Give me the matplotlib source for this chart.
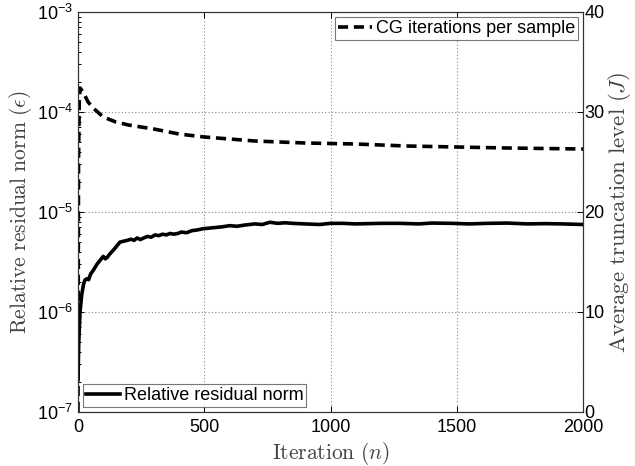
import math
import matplotlib
matplotlib.use("Agg")
import matplotlib.pyplot as plt
from matplotlib.ticker import FixedLocator, LogLocator, FuncFormatter, NullFormatter

# ---- data ----
n_res = [0, 3, 8, 15, 22, 28, 35, 42, 50, 60, 75, 88, 100, 108, 115, 122, 130, 145,
         166, 180, 195, 210, 222, 234, 247, 260, 275, 290, 305, 320, 335, 350, 364,
         380, 395, 410, 430, 450, 470, 495, 520, 545, 570, 600, 630, 660, 700, 730,
         760, 790, 820, 850, 900, 958, 1000, 1050, 1100, 1150, 1200, 1275, 1350,
         1400, 1480, 1550, 1620, 1700, 1780, 1850, 1920, 2000]
residual = [2.1e-7, 5e-7, 1.0e-6, 1.5e-6, 1.9e-6, 2.1e-6, 2.15e-6, 2.1e-6, 2.4e-6,
            2.6e-6, 3.0e-6, 3.3e-6, 3.6e-6, 3.4e-6, 3.5e-6, 3.7e-6, 3.9e-6, 4.3e-6,
            5.0e-6, 5.1e-6, 5.2e-6, 5.35e-6, 5.2e-6, 5.5e-6, 5.3e-6, 5.5e-6, 5.7e-6,
            5.6e-6, 5.9e-6, 5.8e-6, 6.0e-6, 5.9e-6, 6.1e-6, 6.0e-6, 6.1e-6, 6.3e-6,
            6.2e-6, 6.5e-6, 6.6e-6, 6.8e-6, 6.9e-6, 7.0e-6, 7.1e-6, 7.3e-6, 7.2e-6,
            7.4e-6, 7.6e-6, 7.5e-6, 7.9e-6, 7.7e-6, 7.8e-6, 7.7e-6, 7.6e-6, 7.5e-6,
            7.7e-6, 7.7e-6, 7.6e-6, 7.65e-6, 7.7e-6, 7.7e-6, 7.6e-6, 7.75e-6, 7.7e-6,
            7.6e-6, 7.7e-6, 7.75e-6, 7.6e-6, 7.65e-6, 7.6e-6, 7.5e-6]

n_cg = [0, 2, 5, 8, 20, 40, 60, 100, 150, 200, 300, 400, 500, 700, 900, 1100, 1300,
        1500, 1700, 2000]
cg_iters = [0, 25, 31, 32.4, 32.0, 31.0, 30.4, 29.5, 29.0, 28.7, 28.3, 27.8, 27.5,
            27.1, 26.9, 26.8, 26.6, 26.5, 26.4, 26.3]

x_ticks = [0, 500, 1000, 1500, 2000]
right_ticks = [0, 10, 20, 30, 40]

plt.rcParams['font.family'] = ['Liberation Sans', 'DejaVu Sans']
plt.rcParams['mathtext.fontset'] = 'custom'
plt.rcParams['mathtext.rm'] = 'Liberation Sans'
plt.rcParams['mathtext.it'] = 'Liberation Sans:italic'

fig = plt.figure(figsize=(6.35, 4.66), dpi=100)
ax = fig.add_axes([78/635, 1-412/466, (583-78)/635, 400/466])

l1, = ax.plot(n_res, residual, color='black', lw=2.6, solid_joinstyle='round',
              label='Relative residual norm')
ax.set_yscale('log')
ax.set_ylim(1e-7, 1e-3)
ax.set_xlim(0, 2000)
ax.xaxis.set_major_locator(FixedLocator(x_ticks))
ax.yaxis.set_major_locator(LogLocator(base=10, numticks=10))
ax.yaxis.set_minor_locator(LogLocator(base=10, subs=range(2, 10), numticks=20))
ax.yaxis.set_minor_formatter(NullFormatter())

def fmt(v, pos):
    e = int(round(math.log10(v)))
    return r'$10^{%d}$' % e
ax.yaxis.set_major_formatter(FuncFormatter(fmt))

ax.grid(True, which='major', linestyle=(0, (1, 2)), color='#888888', lw=0.8)
ax.tick_params(which='both', direction='in', top=True, right=True, labelsize=13,
               width=0.7)
ax.tick_params(which='major', length=4)
ax.tick_params(which='minor', length=2)
ax.tick_params(axis='x', pad=5)
for s in ax.spines.values():
    s.set_linewidth(0.8)
    s.set_color('#333333')

ax2 = ax.twinx()
l2, = ax2.plot(n_cg, cg_iters, color='black', lw=2.6, linestyle=(0, (2.8, 1.6)),
               label='CG iterations per sample')
ax2.set_ylim(0, 40)
ax2.yaxis.set_major_locator(FixedLocator(right_ticks))
ax2.tick_params(direction='in', labelsize=13, length=4, width=0.7, pad=1)
for s in ax2.spines.values():
    s.set_linewidth(0.8)
    s.set_color('#333333')

lab_col = '#444444'
ax.set_xlabel(r'$\mathrm{Iteration\ }(n)$', fontsize=15.5, color=lab_col,
              math_fontfamily='cm', labelpad=3)
ax.set_ylabel(r'$\mathrm{Relative\ residual\ norm\ }(\epsilon)$', fontsize=15.5,
              color=lab_col, math_fontfamily='cm', labelpad=2)
ax2.set_ylabel(r'$\mathrm{Average\ truncation\ level\ }(J)$', fontsize=16.5,
               color=lab_col, math_fontfamily='cm', labelpad=1)

leg1 = ax.legend(handles=[l1], loc='lower left', fontsize=13, frameon=True,
                 fancybox=False, edgecolor='#555555', borderpad=0.15,
                 handlelength=1.9, handletextpad=0.2, borderaxespad=0.3)
leg1.get_frame().set_linewidth(0.8)
leg2 = ax2.legend(handles=[l2], loc='upper right', fontsize=13, frameon=True,
                  fancybox=False, edgecolor='#555555', borderpad=0.15,
                  handlelength=1.9, handletextpad=0.2, borderaxespad=0.3)
leg2.get_frame().set_linewidth(0.8)

fig.savefig('out.png', dpi=100)
